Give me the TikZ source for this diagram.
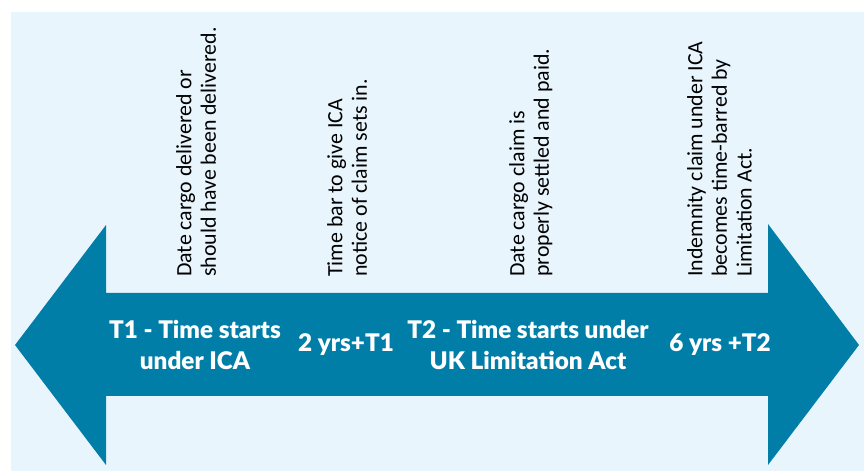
\documentclass[tikz,border=0pt]{standalone}
\usepackage{fontspec}
\setmainfont{Carlito}
\newfontfamily\latofont{Lato Black}
\definecolor{tlbg}{HTML}{E9F5FD}
\definecolor{tlarrow}{HTML}{007EA7}
\tikzset{
  % riquadro di sfondo
  panel/.style={fill=tlbg, draw=none},
  % freccia doppia della linea del tempo
  timearrow/.style={fill=tlarrow, draw=none},
  % testo bianco dentro la freccia
  phase/.style={text=white, align=center, inner sep=0pt,
    font=\latofont\fontsize{18.2}{23.2}\selectfont},
  % evento scritto in verticale sopra la freccia
  event/.style={rotate=90, anchor=north west, align=left, inner sep=0pt,
    text=black, font=\fontsize{16.4}{18.4}\selectfont},
}

\begin{document}
\begin{tikzpicture}[x=0.75pt, y=0.75pt]
  \useasboundingbox (0,0) rectangle (864,471);
  \fill[panel] (11,0) rectangle (864,459);
  \fill[timearrow] (15,126) -- (106,246) -- (106,178) -- (768,178) -- (768,247)
    -- (859,126) -- (768,6) -- (768,75) -- (106,75) -- (106,6) -- cycle;
  \node[phase] (t1) at (195,126) {T1 - Time starts\\under ICA};
  \node[phase] (twoyrs) at (346,126) {2 yrs+T1};
  \node[phase] (t2) at (528,126) {T2 - Time starts under\\UK Limitation Act};
  \node[phase] (sixyrs) at (720,126) {6 yrs +T2};
  \node[event] (delivered) at (176,194) {Date cargo delivered or\\should have been delivered.};
  \node[event] (notice) at (327,194) {Time bar to give ICA\\notice of claim sets in.};
  \node[event] (settled) at (509,194) {Date cargo claim is\\properly settled and paid.};
  \node[event] (barred) at (687,194) {Indemnity claim under ICA\\becomes time-barred by\\Limitation Act.};
\end{tikzpicture}
\end{document}
